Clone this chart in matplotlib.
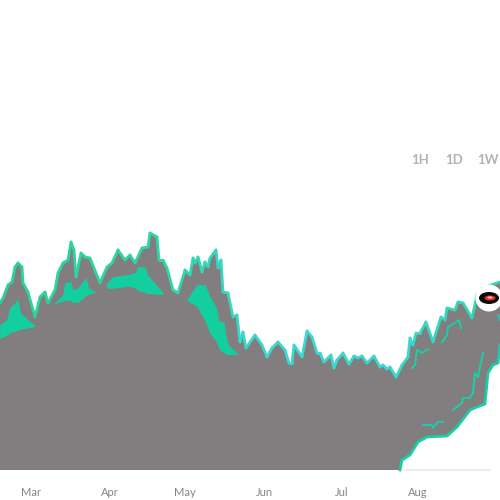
import numpy as np
import matplotlib
matplotlib.use("Agg")
import matplotlib.pyplot as plt
from matplotlib.collections import LineCollection
from matplotlib.colors import LinearSegmentedColormap
from matplotlib.patches import Ellipse

# x is horizontal chart position along the time axis, y is the (unlabelled) value scale
price_x = [0,3,8,12,15,18,22,23,28,35,40,45,48,55,58,63,68,71,74,76,81,85,90,100,107,112,118,125,130,135,142,148,150,157,159,163,167,173,178,185,190,193,195,198,202,205,208,210,216,218,221,223,228,233,237,240,243,246,255,262,267,272,278,285,289,292,294,302,307,312,317,320,324,328,331,334,337,343,349,354,358,362,367,374,380,383,387,390,396,402,408,410,413,416,420,426,433,441,445,447,455,458,463,472,477,482,500]
price_y = [167,172,185,188,203,207,203,187,178,153,173,178,167,180,197,207,210,228,220,193,217,213,212,187,203,207,220,210,215,207,222,223,237,233,210,210,202,180,177,200,195,212,207,213,198,208,203,212,220,202,210,178,177,153,155,128,138,122,135,125,113,122,128,120,107,107,125,113,139,133,117,117,108,112,115,102,110,117,106,114,112,114,107,114,103,105,101,103,93,105,113,132,125,137,137,148,128,153,150,162,160,168,167,152,175,182,188]

floor_x = [400,402,410,418,427,447,457,470,477,485,487,488,493,498,500]
floor_y = [0,10,15,28,33,34,43,60,63,66,87,97,105,107,125]

band1_x = [0,7,10,18,20,35]
band1_hi = [145,150,162,170,157,144]
band1_lo = [132,135,138,140,141,144]
band2_x = [55,63,65,71,72,78,86,88,95]
band2_hi = [167,175,187,188,180,182,192,182,178]
band2_lo = [167,169,170,170,168,168,175,176,178]
band3_x = [107,113,128,135,138,145,147,163]
band3_hi = [187,193,195,197,203,203,195,177]
band3_lo = [182,182,184,183,180,178,177,176]
band4_x = [187,197,198,205,210,217,218,220,224,225,228,238]
band4_hi = [170,185,185,185,173,160,150,148,148,137,125,116]
band4_lo = [170,164,162,150,137,128,125,120,118,117,116,116]

frag_a_x = [412,415,417,422,428]
frag_a_y = [102,105,120,117,121]
frag_b_x = [442,447,448,455,459,461]
frag_b_y = [128,135,143,147,150,142]
frag_c_x = [453,462,463,470,473,475,478,480,483]
frag_c_y = [60,67,72,72,77,97,93,103,117]
frag_d_x = [423,432,433,438,443]
frag_d_y = [45,45,42,48,48]
frag_e_x = [498,500]
frag_e_y = [155,150]

month_pos = [31,110,185,264,342,418]
month_labels = ["Mar","Apr","May","Jun","Jul","Aug"]
range_pos = [420,454,488]
range_labels = ["1H","1D","1W"]
marker_pos = (489,172)

GREY = "#827e80"
GREEN = "#13cf9f"
plt.rcParams["font.family"] = ["Lato", "DejaVu Sans"]

fig = plt.figure(figsize=(5,5), dpi=100, facecolor="white")
ax = fig.add_axes([0, 30/500, 1, 440/500])
ax.set_xlim(0,500)
ax.set_ylim(0,440)
for s in ax.spines.values():
    s.set_visible(False)
ax.set_yticks([])
ax.set_xticks(month_pos, month_labels)
ax.tick_params(axis="x", length=0, pad=12, labelsize=8, labelcolor="#858585")

ax.fill_between(price_x, price_y, 0, color=GREY, lw=0, zorder=1)
ax.fill_between(floor_x, floor_y, 0, color="white", lw=0, zorder=2)
ax.plot([405,490],[0,0], color="#e9e9ee", lw=1.2, zorder=3, clip_on=False)

for bx,hi,lo in [(band1_x,band1_hi,band1_lo),(band2_x,band2_hi,band2_lo),(band3_x,band3_hi,band3_lo),(band4_x,band4_hi,band4_lo)]:
    ax.fill_between(bx, lo, hi, color=GREEN, lw=0.5, zorder=3)

for fx,fy in [(frag_a_x,frag_a_y),(frag_b_x,frag_b_y),(frag_c_x,frag_c_y),(frag_d_x,frag_d_y),(frag_e_x,frag_e_y)]:
    ax.plot(fx, fy, color="#18cfa8", lw=1.4, zorder=3)

ax.plot(floor_x, floor_y, color="#16cfa6", lw=2, zorder=4, clip_on=False)

cmap = LinearSegmentedColormap.from_list("g", [(0,"#2ad39c"),(0.33,"#2fd6a6"),(0.52,"#3bd8cf"),(0.78,"#3bd8cf"),(1,"#2fd6ae")])
pts = np.column_stack([price_x, price_y])
segs = np.stack([pts[:-1], pts[1:]], axis=1)
lc = LineCollection(segs, cmap=cmap, array=np.array(price_x[:-1], float)/500, norm=plt.Normalize(0,1), linewidths=2.0, zorder=5, capstyle="round", joinstyle="round")
ax.add_collection(lc)

ax.add_patch(Ellipse(marker_pos, 27, 27, color="white", zorder=6, lw=0))
ax.add_patch(Ellipse(marker_pos, 20, 12, color="#0a0a0a", zorder=7, lw=0))
ax.add_patch(Ellipse((marker_pos[0]+1,marker_pos[1]), 11, 5, color="#e8302a", zorder=8, lw=0))
ax.add_patch(Ellipse((marker_pos[0]+1,marker_pos[1]+0.5), 5, 2, color="#ffd9d5", zorder=9, lw=0))

for p,l in zip(range_pos, range_labels):
    ax.text(p, 310, l, ha="center", va="center", fontsize=9.5, fontweight="bold", color="#b3b3b3", zorder=10, clip_on=False)

fig.savefig("out.png", dpi=100)
